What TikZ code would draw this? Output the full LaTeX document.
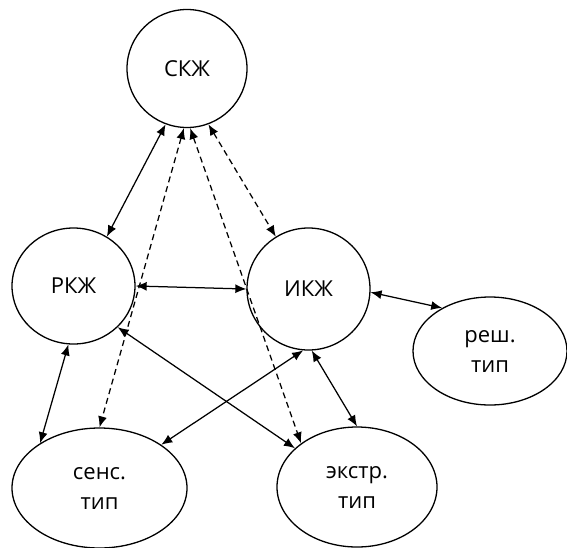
\documentclass[tikz,border=0pt]{standalone}
\usepackage{fontspec}
\setmainfont{Open Sans}
\usepackage{tikz}
\usetikzlibrary{arrows.meta,shapes.geometric}

\begin{document}
\begin{tikzpicture}[x=1pt,y=-1pt]

\tikzset{state/.style={ellipse, draw=black, line width=1.3pt, inner sep=0pt, align=center,
  font=\fontsize{22}{30}\selectfont},
%both ends get a filled tip
link/.style={line width=1.25pt, {Latex[length=11pt,width=9pt]}-{Latex[length=11pt,width=9pt]}},
dashlink/.style={link, dash pattern=on 6pt off 4pt}}

\useasboundingbox (0,0) rectangle (567,547);

\node[state, minimum width=120pt, minimum height=118pt] (skzh) at (187,68.5) {СКЖ};
\node[state, minimum width=123pt, minimum height=116pt] (rkzh) at (73.5,286) {РКЖ};
\node[state, minimum width=123pt, minimum height=122pt] (ikzh) at (308.5,289) {ИКЖ};
\node[state, minimum width=154pt, minimum height=108pt] (resh) at (490,351) {реш.\\тип};
\node[state, minimum width=175pt, minimum height=120pt] (sens) at (99.5,488) {сенс.\\тип};
\node[state, minimum width=160pt, minimum height=120pt] (ekstr) at (357,487) {экстр.\\тип};

%solid links
\foreach \a/\b in {skzh.249/rkzh.56, rkzh.0/ikzh.180, rkzh.317/ekstr.148, rkzh.265/sens.143,
  ikzh.265/sens.35, ikzh.273/ekstr.90, ikzh.357/resh.138}
  \draw[link] (\a) -- (\b);

%dashed links from СКЖ
\foreach \a/\b in {skzh.291/ikzh.122, skzh.267/sens.90, skzh.273/ekstr.142}
  \draw[dashlink] (\a) -- (\b);

\end{tikzpicture}
\end{document}
